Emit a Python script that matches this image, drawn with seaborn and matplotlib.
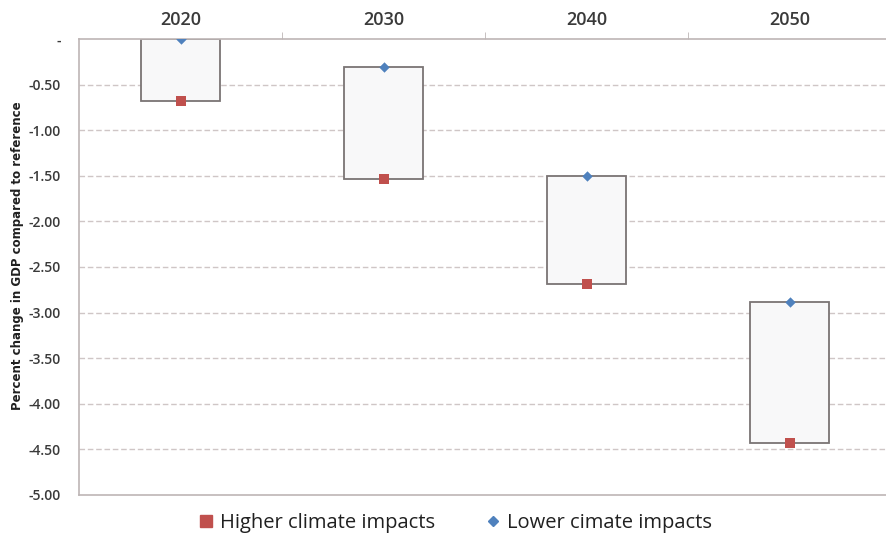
import matplotlib
matplotlib.use("Agg")
import matplotlib.pyplot as plt
from matplotlib.lines import Line2D
import seaborn as sns
import numpy as np

# Scenario results: percent change in GDP versus reference
years = ["2020", "2030", "2040", "2050"]
higher_impacts = [-0.68, -1.53, -2.69, -4.43]
lower_impacts = [0.00, -0.31, -1.50, -2.88]
ytick_values = [0, -0.5, -1.0, -1.5, -2.0, -2.5, -3.0, -3.5, -4.0, -4.5, -5.0]
ytick_labels = ["-", "-0.50", "-1.00", "-1.50", "-2.00", "-2.50", "-3.00",
                "-3.50", "-4.00", "-4.50", "-5.00"]

sns.set_style("white")
plt.rcParams["font.family"] = ["Open Sans", "DejaVu Sans"]

RED = "#C0504D"
BLUE = "#4F81BD"
GRID = "#CFC6C6"
SPINE = "#BDB5B5"
TEXT = "#3A3A3A"

fig = plt.figure(figsize=(8.87, 5.38), dpi=100)
ax = fig.add_axes([79 / 887, 43 / 538, 808 / 887, 456 / 538])

pos = np.arange(len(years))
# floating range boxes between the two scenarios
ax.bar(pos, np.array(lower_impacts) - np.array(higher_impacts),
       bottom=higher_impacts, width=0.39, color="#F8F8F9",
       edgecolor="#7A7474", linewidth=1.3, zorder=2)

sns.scatterplot(x=pos, y=higher_impacts, marker="s", s=60, color=RED,
                edgecolor=RED, linewidth=0, ax=ax, zorder=4)
sns.scatterplot(x=pos, y=lower_impacts, marker="D", s=28, color=BLUE,
                edgecolor=BLUE, linewidth=0, ax=ax, zorder=4)

ax.set_ylim(-5.0, 0.0)
ax.set_xlim(-0.5, 3.48)
ax.set_yticks(ytick_values)
ax.set_yticklabels(ytick_labels, fontsize=10, color=TEXT, fontweight="semibold")
for yv in ytick_values[1:-1]:
    ax.axhline(yv, color=GRID, linewidth=1.0, linestyle=(0, (4, 2)), zorder=1)

# category labels on the top axis, ticks at the category boundaries
ax.xaxis.tick_top()
ax.set_xticks(pos)
ax.set_xticklabels(years, fontsize=13, color=TEXT, fontweight="semibold")
ax.set_xticks([0.5, 1.5, 2.5], minor=True)
ax.tick_params(axis="x", which="major", length=0, pad=7)
ax.tick_params(axis="x", which="minor", length=5, color=SPINE, direction="out")
ax.tick_params(axis="y", length=5, color=SPINE, direction="out", pad=8)

for side in ["top", "left", "bottom"]:
    ax.spines[side].set_color(SPINE)
    ax.spines[side].set_linewidth(1.2)
ax.spines["right"].set_visible(False)

ax.set_ylabel("Percent change in GDP compared to reference",
              family=["DejaVu Sans"], fontsize=8.5, fontweight="bold",
              color="#202020")
ax.yaxis.set_label_coords(-0.068, 0.525)

handles = [
    Line2D([], [], marker="s", linestyle="none", color=RED, markersize=8),
    Line2D([], [], marker="D", linestyle="none", color=BLUE, markersize=5),
]
fig.legend(handles, ["Higher climate impacts", "Lower cimate impacts"],
           loc="center", bbox_to_anchor=(454 / 887, 1 - 523 / 538), ncol=2,
           frameon=False, fontsize=14.5, handletextpad=0.2, columnspacing=2.4,
           labelcolor="#202020", handlelength=1.0)

fig.savefig("out.png", dpi=100)
